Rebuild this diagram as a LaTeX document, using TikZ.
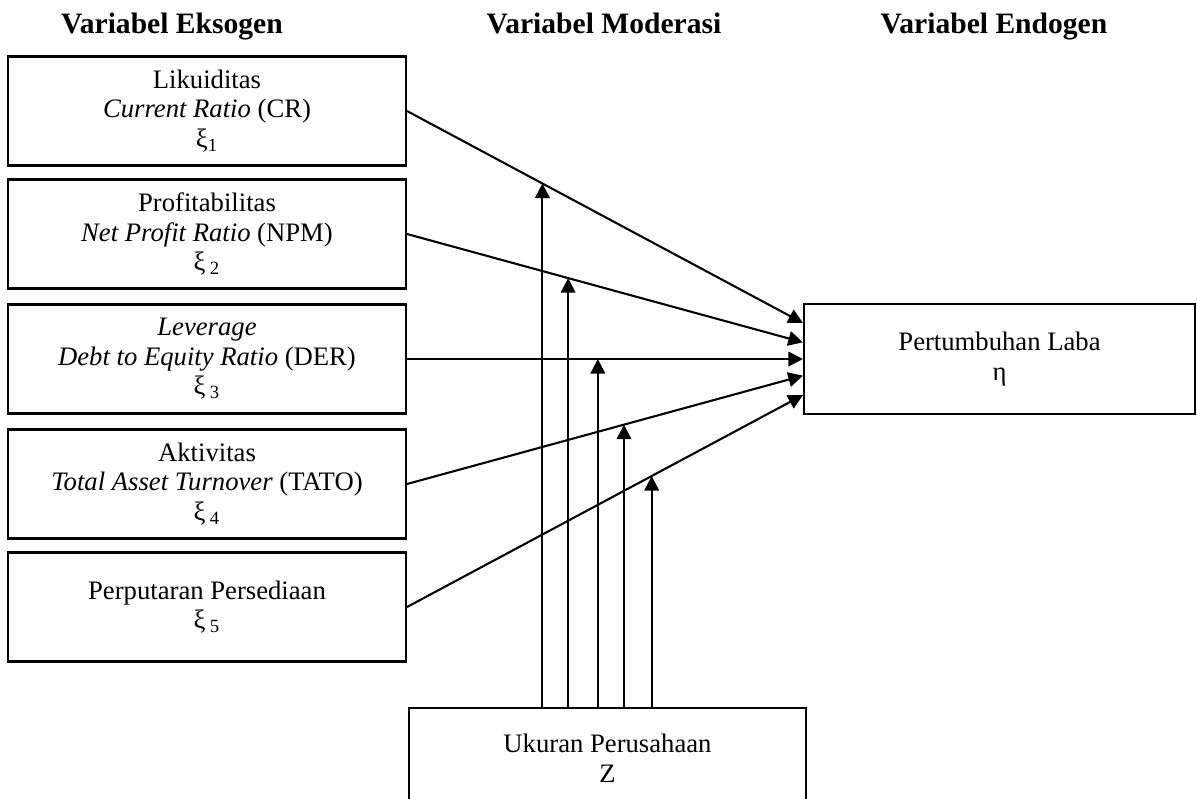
\documentclass[tikz,border=0pt,12pt]{standalone}
\usepackage{fontspec}
\setmainfont{Liberation Serif}
\usetikzlibrary{arrows.meta}

\begin{document}
\begin{tikzpicture}[x=0.48pt, y=-0.48pt,
    varbox/.style={draw, line width=1pt, align=center, minimum width=191pt, minimum height=52.3pt, inner sep=0pt,
        font=\fontsize{12.8}{14.2}\selectfont},
    link/.style={line width=1pt, -{Triangle[length=7pt,width=7pt]}},
    heading/.style={font=\fontsize{14.2}{16}\selectfont\bfseries, anchor=base}]
    \useasboundingbox (0,0) rectangle (1197,798);

    % Headings
    \node[heading] (hex) at (172,33) {Variabel Eksogen};
    \node[heading] (hmod) at (604,33) {Variabel Moderasi};
    \node[heading] (hen) at (994,33) {Variabel Endogen};

    % Exogenous variables
    \node[varbox] (ex1) at (207,111) {Likuiditas\\\textit{Current Ratio} (CR)\\ξ\textsubscript{1}};
    \node[varbox] (ex2) at (207,234) {Profitabilitas\\\textit{Net Profit Ratio} (NPM)\\ξ\,\textsubscript{2}};
    \node[varbox] (ex3) at (207,359) {\textit{Leverage}\\\textit{Debt to Equity Ratio} (DER)\\ξ\,\textsubscript{3}};
    \node[varbox] (ex4) at (207,484) {Aktivitas\\\textit{Total Asset Turnover} (TATO)\\ξ\,\textsubscript{4}};
    \node[varbox] (ex5) at (207,607) {Perputaran Persediaan\\ξ\,\textsubscript{5}};

    % Endogenous variable
    \node[varbox, minimum width=187.7pt, minimum height=53pt] (eta) at (999.5,359) {Pertumbuhan Laba\\η};

    % Moderating variable
    \node[varbox, minimum width=190.6pt, minimum height=48pt] (z) at (607.5,758) {Ukuran Perusahaan\\Z};

    % Direct effects
    \draw[link] (ex1.east) -- coordinate[pos=0.342] (m1) ([yshift=17.3pt]eta.west);
    \draw[link] (ex2.east) -- coordinate[pos=0.407] (m2) ([yshift=8pt]eta.west);
    \draw[link] (ex3.east) -- coordinate[pos=0.482] (m3) (eta.west);
    \draw[link] (ex4.east) -- coordinate[pos=0.548] (m4) ([yshift=-8pt]eta.west);
    \draw[link] (ex5.east) -- coordinate[pos=0.618] (m5) ([yshift=-17.3pt]eta.west);

    % Moderation
    \foreach \m in {m1,m2,m3,m4,m5}
        \draw[link] (z.north -| \m) -- (\m);
\end{tikzpicture}
\end{document}
